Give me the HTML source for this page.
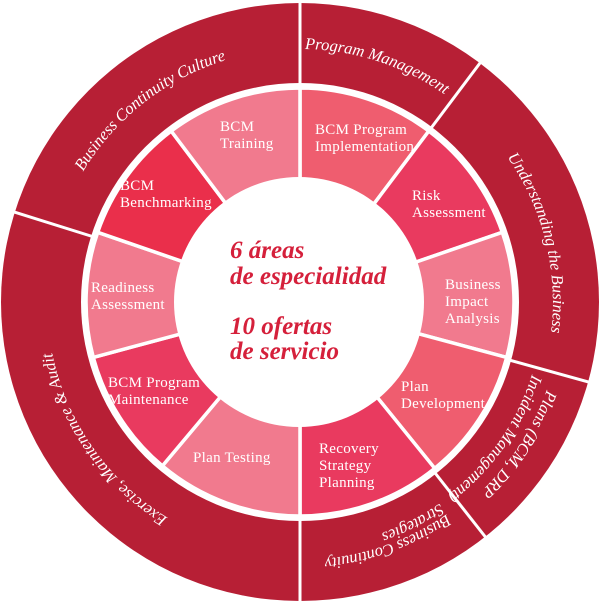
<!DOCTYPE html>
<html><head><meta charset="utf-8"><style>
html,body{margin:0;padding:0;background:#fff;width:600px;height:605px;overflow:hidden}
svg{display:block}
.o{font-family:"Liberation Serif",serif;font-style:italic;font-size:16.5px;fill:#fff}
.i{font-family:"Liberation Serif",serif;font-size:15px;fill:#fff;letter-spacing:0.3px}
.c{font-family:"Liberation Serif",serif;font-style:italic;font-weight:bold;font-size:25px;fill:#d5203b}
</style></head><body>
<svg width="600" height="605" viewBox="0 0 600 605" xmlns="http://www.w3.org/2000/svg">
<defs>
<path id="p1" d="M59.4,380.2 A253,253 0 0 1 434.1,87.4"/>
<path id="p2" d="M100.6,146.2 A253,253 0 0 1 552.8,293.2"/>
<path id="p3" d="M326.4,50.4 A253,253 0 0 1 441.5,511.7"/>
<path id="p4a" d="M509.2,144.3 A262,262 0 0 1 241.1,557.3"/>
<path id="p4b" d="M499.1,162.6 A243,243 0 0 1 237.1,536.7"/>
<path id="p5a" d="M558,302 A258,258 0 0 1 102.4,467.8"/>
<path id="p5b" d="M543.2,272.1 A245,245 0 0 1 132.9,481.2"/>
<path id="p6" d="M365.5,546.4 A253,253 0 0 1 92.7,156.9"/>
</defs>
<circle cx="300" cy="302" r="299" fill="#b71f35"/>
<circle cx="300" cy="302" r="219" fill="#fff"/>
<g stroke="#fff" stroke-width="3">
<line x1="300" y1="86" x2="300" y2="0"/>
<line x1="430" y1="129.5" x2="482" y2="60.4"/>
<line x1="508.1" y1="359.7" x2="591" y2="382.7"/>
<line x1="433.9" y1="471.5" x2="487" y2="539"/>
<line x1="300" y1="518" x2="300" y2="605"/>
<line x1="94" y1="237" x2="12" y2="211.3"/>
</g>
<g stroke="#fff" stroke-width="3.5" stroke-linejoin="round">
<path fill="#ef5d6f" d="M300,302 L300,88 A214,214 0 0 1 428.8,131.1Z"/>
<path fill="#e93a5f" d="M300,302 L428.8,131.1 A214,214 0 0 1 502.3,232.3Z"/>
<path fill="#f17a8e" d="M300,302 L502.3,232.3 A214,214 0 0 1 506.7,357.4Z"/>
<path fill="#ef5d6f" d="M300,302 L506.7,357.4 A214,214 0 0 1 434.7,468.3Z"/>
<path fill="#e93a5f" d="M300,302 L434.7,468.3 A214,214 0 0 1 300,516Z"/>
<path fill="#f17a8e" d="M300,302 L300,516 A214,214 0 0 1 162.4,465.9Z"/>
<path fill="#e93a5f" d="M300,302 L162.4,465.9 A214,214 0 0 1 93.3,357.4Z"/>
<path fill="#f17a8e" d="M300,302 L93.3,357.4 A214,214 0 0 1 97.7,232.3Z"/>
<path fill="#ea2f4b" d="M300,302 L97.7,232.3 A214,214 0 0 1 171.2,131.1Z"/>
<path fill="#f17a8e" d="M300,302 L171.2,131.1 A214,214 0 0 1 300,88Z"/>
</g>
<circle cx="299" cy="302" r="125" fill="#fff"/>
<text class="o"><textPath href="#p1" startOffset="50%" text-anchor="middle">Business Continuity Culture</textPath></text>
<text class="o"><textPath href="#p2" startOffset="50%" text-anchor="middle">Program Management</textPath></text>
<text class="o"><textPath href="#p3" startOffset="50%" text-anchor="middle">Understanding the Business</textPath></text>
<text class="o"><textPath href="#p4a" startOffset="50%" text-anchor="middle">Plans (BCM, DRP</textPath></text>
<text class="o"><textPath href="#p4b" startOffset="50%" text-anchor="middle">Incident Management)</textPath></text>
<text class="o"><textPath href="#p5a" startOffset="50%" text-anchor="middle">Business Continuity</textPath></text>
<text class="o"><textPath href="#p5b" startOffset="50%" text-anchor="middle">Strategies</textPath></text>
<text class="o"><textPath href="#p6" startOffset="50%" text-anchor="middle">Exercise, Maintenance &amp; Audit</textPath></text>
<text class="i" x="220" y="131">BCM</text><text class="i" x="220" y="148">Training</text>
<text class="i" x="315" y="134">BCM Program</text><text class="i" x="315" y="151">Implementation</text>
<text class="i" x="412" y="200">Risk</text><text class="i" x="412" y="217">Assessment</text>
<text class="i" x="445" y="289">Business</text><text class="i" x="445" y="306">Impact</text><text class="i" x="445" y="323">Analysis</text>
<text class="i" x="401" y="391">Plan</text><text class="i" x="401" y="408">Development</text>
<text class="i" x="319" y="453">Recovery</text><text class="i" x="319" y="470">Strategy</text><text class="i" x="319" y="487">Planning</text>
<text class="i" x="193" y="462">Plan Testing</text>
<text class="i" x="108" y="387">BCM Program</text><text class="i" x="108" y="404">Maintenance</text>
<text class="i" x="91" y="292">Readiness</text><text class="i" x="91" y="309">Assessment</text>
<text class="i" x="120" y="190">BCM</text><text class="i" x="120" y="207">Benchmarking</text>
<text class="c" x="230" y="258">6 áreas</text>
<text class="c" x="230" y="284">de especialidad</text>
<text class="c" x="230" y="334">10 ofertas</text>
<text class="c" x="230" y="359">de servicio</text>
</svg>
</body></html>
